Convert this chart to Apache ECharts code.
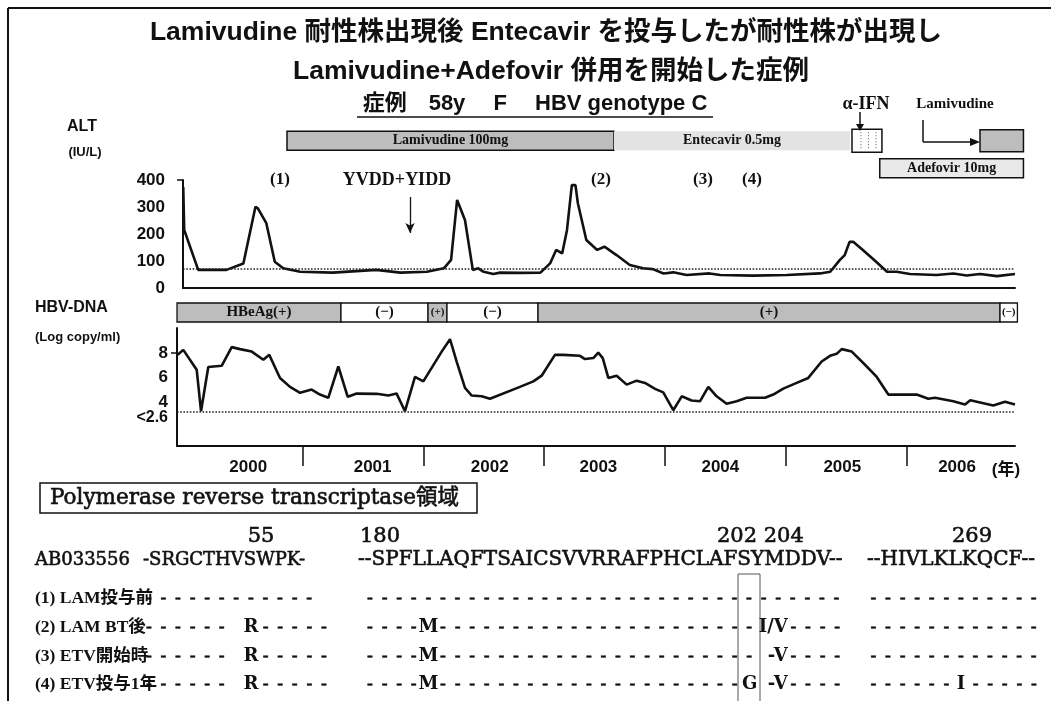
<!DOCTYPE html>
<html><head><meta charset="utf-8">
<script src="https://cdn.jsdelivr.net/npm/echarts@6/dist/echarts.min.js"></script>
<style>html,body{margin:0;padding:0;background:#fff}#c{width:1051px;height:701px}</style>
</head><body><div id="c"></div><script>
// ---------------- DATA ----------------
const altYears = [2000.012,2000.02,2000.136,2000.37,2000.51,2000.61,2000.63,2000.70,2000.77,2000.84,2000.98,2001.25,2001.61,2001.81,2002.03,2002.17,2002.23,2002.28,2002.345,2002.41,2002.455,2002.50,2002.58,2002.635,2002.80,2002.97,2003.05,2003.10,2003.15,2003.19,2003.23,2003.26,2003.28,2003.35,2003.44,2003.50,2003.60,2003.71,2003.82,2003.90,2003.99,2004.07,2004.18,2004.37,2004.46,2004.73,2005.01,2005.285,2005.37,2005.45,2005.49,2005.53,2005.56,2005.64,2005.75,2005.84,2005.92,2006.03,2006.25,2006.39,2006.50,2006.61,2006.75,2006.90];
const altValues = [374,215,67,67,91,301,295,240,97,73,60,57,67,57,60,73,104,326,252,67,73,60,52,57,56,57,91,141,128,215,381,381,314,178,141,153,122,85,73,70,54,58,48,54,48,46,48,54,60,104,122,171,171,141,97,60,60,52,48,54,46,52,44,52];
const hbvYears = [1999.966,2000.012,2000.123,2000.159,2000.219,2000.33,2000.413,2000.482,2000.579,2000.675,2000.724,2000.813,2000.896,2000.979,2001.075,2001.144,2001.213,2001.296,2001.374,2001.448,2001.614,2001.71,2001.779,2001.848,2001.931,2002.0,2002.152,2002.221,2002.276,2002.345,2002.401,2002.483,2002.552,2002.80,2002.911,2002.98,2003.09,2003.159,2003.297,2003.339,2003.408,2003.449,2003.486,2003.532,2003.601,2003.684,2003.767,2003.836,2003.919,2003.987,2004.07,2004.14,2004.222,2004.291,2004.36,2004.429,2004.512,2004.595,2004.678,2004.83,2004.898,2004.981,2005.092,2005.188,2005.299,2005.368,2005.423,2005.465,2005.548,2005.658,2005.755,2005.851,2006.086,2006.182,2006.237,2006.389,2006.486,2006.53,2006.72,2006.817,2006.9];
const hbvValues = [7.84,8.24,6.64,3.3,6.86,6.96,8.46,8.3,8.1,7.44,7.84,5.98,5.26,4.78,5.04,4.64,4.38,6.9,4.46,4.72,4.7,4.56,4.72,3.3,6.06,5.7,8.1,9.1,7.3,5.18,4.56,4.5,4.3,5.26,5.7,6.16,7.84,7.84,7.76,7.5,7.58,8.02,7.58,5.98,6.16,5.44,5.76,5.58,5.1,4.82,3.38,4.5,4.16,4.1,5.26,4.5,3.9,4.1,4.38,4.38,4.64,5.12,5.58,5.98,7.3,7.76,7.92,8.3,8.1,7.04,6.06,4.64,4.64,4.3,4.38,4.1,3.84,4.18,3.76,4.06,3.84];
const altNormal = 70;
const hbvLimit = 3.25;
const altTicks = [0,100,200,300,400];
const hbvTickPos = [4,6,8];
const hbvTickText = ['4','6','8'];
const hbvLimitTickPos = [2.8];
const hbvLimitTickText = ['<2.6'];
const yearTicks = [2001,2002,2003,2004,2005,2006];
const yearLabelPos = [2000.55,2001.58,2002.55,2003.45,2004.46,2005.47,2006.42];
const yearLabels = ['2000','2001','2002','2003','2004','2005','2006'];
const treatNames = ['Lamivudine 100mg','Entecavir 0.5mg','','','Adefovir 10mg'];
const treatStart = [2000.871,2003.579,2005.55,2006.61,2005.78];
const treatEnd = [2003.579,2005.534,2005.798,2006.97,2006.97];
const treatRow = [0,0,0,0,1];
const hbeagLabels = ['HBeAg(+)','(−)','(+)','(−)','(+)','(−)'];
const hbeagStart = [1999.96,2001.318,2002.039,2002.196,2002.95,2006.776];
const hbeagEnd = [2001.318,2002.039,2002.196,2002.95,2006.776,2006.92];
const hbeagPositive = [1,0,1,0,1,0];
const eventLabels = ['(1)','(2)','(3)','(4)'];
const mutationArrow = [2001.89, 337, 204];
const seqPosLabels = ['55','180','202 204','269'];
const seqRef = ['AB033556','-SRGCTHVSWPK-','--SPFLLAQFTSAICSVVRRAFPHCLAFSYMDDV--','--HIVLKLKQCF--'];
const sampleLabels = ['(1) LAM投与前','(2) LAM BT後','(3) ETV開始時','(4) ETV投与1年'];
const mut55 = ['','R','R','R'];
const mut180 = ['','M','M','M'];
const mut202 = ['','','','G'];
const mut204 = ['','I/V','-V','-V'];
const mut269 = ['','','','I'];

// ---------------- STYLE ----------------
const SANS = '"Liberation Sans","Noto Sans CJK JP",sans-serif';
const SERIF = '"Liberation Serif","Noto Sans CJK JP",serif';
const SEQ = '"DejaVu Serif","Noto Sans CJK JP",serif';
const INK = '#111';
const X_MIN = 1999.96, X_MAX = 2006.9;

const treatFill = ['#bdbdbd','#e3e3e3','#ffffff','#bdbdbd','#e9e9e9'];
const treatStroke = [INK,null,INK,INK,INK];
const treatH = [19,19,23,22,19];

function T(text, x, y, font, align, extra) {
  return {type:'text', x:x, y:y, silent:true, z:10,
    style:Object.assign({text:text, font:font, fill:INK, textAlign:align||'left', textVerticalAlign:'middle'}, extra||{})};
}
const HEAVY = {stroke:INK, lineWidth:0.6};
function L(x1,y1,x2,y2,w,dash){
  return {type:'line', silent:true, z:10, shape:{x1:x1,y1:y1,x2:x2,y2:y2}, style:{stroke:INK, lineWidth:w||1.5, lineDash:dash||null}};
}
function P(points){
  return {type:'polygon', silent:true, z:10, shape:{points:points}, style:{fill:INK}};
}

// ---------------- GRAPHIC ----------------
const g = [];
// frame
g.push(L(8,8,1051,8,2));
g.push(L(8,8,8,701,2));
// titles
g.push(T('Lamivudine 耐性株出現後 Entecavir を投与したが耐性株が出現し', 546, 33, 'bold 26.5px '+SANS, 'center'));
g.push(T('Lamivudine+Adefovir 併用を開始した症例', 551, 72, 'bold 26.5px '+SANS, 'center'));
g.push(T('症例　58y　 F　 HBV genotype C', 535, 104, 'bold 22px '+SANS, 'center'));
g.push(L(357,117,713,117,1.5));
// panel labels
g.push(T('ALT', 82, 127, 'bold 16px '+SANS, 'center'));
g.push(T('(IU/L)', 85, 152, 'bold 13px '+SANS, 'center'));
g.push(T('HBV-DNA', 35, 308, 'bold 16px '+SANS, 'left'));
g.push(T('(Log copy/ml)', 35, 337, 'bold 13px '+SANS, 'left'));
g.push(T('(年)', 1006, 470, 'bold 17px '+SANS, 'center'));
// treatment annotations
g.push(T('α-IFN', 866, 104, 'bold 18px '+SERIF, 'center'));
g.push(L(860,112,860,125,1.5));
g.push(P([[856,124],[864,124],[860,131]]));
g.push(T('Lamivudine', 955, 104, 'bold 15px '+SERIF, 'center'));
g.push(L(923,120,923,142,1.5));
g.push(L(923,142,972,142,1.5));
g.push(P([[970,138],[980,142],[970,146]]));
// event labels
const evX = [280, 601, 703, 752];
eventLabels.forEach((t,i)=>g.push(T(t, evX[i], 180, 'bold 17px '+SERIF, 'center')));
g.push(T('YVDD+YIDD', 397, 180, 'bold 18px '+SERIF, 'center'));

// sequence section
g.push({type:'rect', silent:true, z:10, shape:{x:40,y:483,width:437,height:30}, style:{fill:'#fff', stroke:INK, lineWidth:1.5}});
g.push(T('Polymerase reverse transcriptase領域', 50, 498, '21.5px '+SEQ, 'left', HEAVY));
const numX = [261, 380, 717, 972], numAl = ['center','center','left','center'];
seqPosLabels.forEach((t,i)=>g.push(T(t, numX[i], 537, '21px '+SEQ, numAl[i], HEAVY)));
const refX = [35, 143, 358, 867];
const refSize = [18, 18, 20, 20];
seqRef.forEach((t,i)=>g.push(T(t, refX[i], 560, refSize[i]+'px '+SEQ, 'left', HEAVY)));
// highlight box at 202
g.push({type:'rect', silent:true, z:9, shape:{x:738,y:574,width:22,height:130}, style:{fill:null, stroke:'#555', lineWidth:1}});

const PITCH = 14.6;
const regA = 148.8, regB = 370, regC = 873.4;
const DASHFONT = 'bold 17.5px "Liberation Serif",serif';
function dashRun(x0, from, to, y){
  if (to < from) return;
  const n = to-from+1;
  g.push(T(Array(n).fill('-').join('  '), x0 + from*PITCH - 2.9, y, DASHFONT, 'left', {stroke:INK, lineWidth:0.5}));
}
function mut(text, x, y, align){ g.push(T(text, x, y, 'bold 18px '+SEQ, align||'center')); }
const rowY = [598, 627, 656, 684];
sampleLabels.forEach((lab, r)=>{
  const y = rowY[r];
  g.push(T(lab, 35, y, 'bold 17.5px '+SERIF, 'left'));
  // region 55
  if (mut55[r]) { dashRun(regA,0,5,y); mut(mut55[r], regA+7*PITCH, y); dashRun(regA,8,12,y); }
  else dashRun(regA,0,11,y);
  // region 180-204
  if (!mut180[r]) { dashRun(regB,0,32,y); }
  else {
    dashRun(regB,0,3,y); mut(mut180[r], regB+4*PITCH, y);
    if (mut202[r]) { dashRun(regB,5,25,y); mut(mut202[r], regB+26*PITCH, y); }
    else dashRun(regB,5,26,y);
    mut(mut204[r], regB+28*PITCH+9, y, 'right');
    dashRun(regB,29,32,y);
  }
  // region 269
  if (mut269[r]) { dashRun(regC,0,5,y); mut(mut269[r], regC+6*PITCH, y); dashRun(regC,7,11,y); }
  else dashRun(regC,0,11,y);
});

// ---------------- SERIES HELPERS ----------------
function renderTreat(params, api){
  const i = api.value(3);
  const a = api.coord([api.value(0), api.value(2)]);
  const b = api.coord([api.value(1), api.value(2)]);
  const h = treatH[i];
  const ch = [{type:'rect', shape:{x:a[0], y:a[1]-h/2, width:b[0]-a[0], height:h},
    style:{fill:treatFill[i], stroke:treatStroke[i], lineWidth:1.5}}];
  if (i === 2) {
    [0.3,0.55,0.8].forEach(f=>{
      const xx = a[0] + (b[0]-a[0])*f;
      ch.push({type:'line', shape:{x1:xx,y1:a[1]-h/2+3,x2:xx,y2:a[1]+h/2-3}, style:{stroke:'#555', lineWidth:1, lineDash:[1,2]}});
    });
  }
  if (treatNames[i]) {
    ch.push({type:'text', x:(a[0]+b[0])/2, y:a[1], style:{text:treatNames[i], font:'bold 14px '+SERIF, fill:INK,
      textAlign:'center', textVerticalAlign:'middle', align:'center', verticalAlign:'middle'}});
  }
  return {type:'group', children:ch};
}
function renderHbeag(params, api){
  const i = api.value(3);
  const a = api.coord([api.value(0), 0]);
  const b = api.coord([api.value(1), 0]);
  const h = 19;
  const small = (b[0]-a[0]) < 30;
  return {type:'group', children:[
    {type:'rect', shape:{x:a[0], y:a[1]-h/2, width:b[0]-a[0], height:h},
      style:{fill: hbeagPositive[i] ? '#bdbdbd' : '#ffffff', stroke:INK, lineWidth:1.3}},
    {type:'text', x:(a[0]+b[0])/2, y:a[1], style:{text:hbeagLabels[i], font:'bold '+(small?11:15)+'px '+SERIF, fill:INK,
      textAlign:'center', textVerticalAlign:'middle', align:'center', verticalAlign:'middle'}}
  ]};
}

const baseGrid = {containLabel:false, outerBoundsMode:'none'};
const hiddenX = (gi)=>({gridIndex:gi, type:'value', min:X_MIN, max:X_MAX, show:false, splitLine:{show:false}});
const lbl = (vals, texts, margin, size)=>({show:true, customValues:vals, margin:margin, color:INK, fontFamily:SANS, fontWeight:'bold', fontSize:size, hideOverlap:false,
  formatter:(v)=>{const k = vals.findIndex(p=>Math.abs(p-v)<1e-6); return k>=0 ? texts[k] : '';}});

const option = {
  animation:false,
  backgroundColor:'#fff',
  textStyle:{fontFamily:SANS},
  grid:[
    Object.assign({left:177, right:36, top:127, height:55}, baseGrid),
    Object.assign({left:183, right:36, top:180, height:108}, baseGrid),
    Object.assign({left:177, right:36, top:303, height:19}, baseGrid),
    Object.assign({left:177, right:36, top:328, height:118}, baseGrid)
  ],
  xAxis:[
    hiddenX(0),
    {gridIndex:1, type:'value', min:2000.01, max:X_MAX, splitLine:{show:false},
      axisLine:{show:true, onZero:false, lineStyle:{color:INK, width:2}}, axisTick:{show:false}, axisLabel:{show:false}},
    hiddenX(2),
    {gridIndex:3, type:'value', min:X_MIN, max:X_MAX, splitLine:{show:false},
      axisLine:{show:true, onZero:false, lineStyle:{color:INK, width:2}},
      axisTick:{show:true, customValues:yearTicks, length:20, inside:false, lineStyle:{color:INK, width:1.5}},
      axisLabel:lbl(yearLabelPos, yearLabels, 13, 17)}
  ],
  yAxis:[
    {gridIndex:0, type:'category', data:['r0','r1'], inverse:true, show:false},
    {gridIndex:1, type:'value', min:0, max:400, splitLine:{show:false},
      axisLine:{show:true, lineStyle:{color:INK, width:2}},
      axisTick:{show:true, customValues:[400], length:6, lineStyle:{color:INK, width:1.5}},
      axisLabel:lbl(altTicks, altTicks.map(String), 18, 17)},
    {gridIndex:2, type:'category', data:['e'], show:false},
    {gridIndex:3, type:'value', position:'left', min:0.5, max:10, splitLine:{show:false},
      axisLine:{show:true, lineStyle:{color:INK, width:2}},
      axisTick:{show:true, customValues:[8], length:6, lineStyle:{color:INK, width:1.5}},
      axisLabel:lbl(hbvTickPos, hbvTickText, 9, 17)},
    {gridIndex:3, type:'value', position:'left', offset:0, min:0.5, max:10, splitLine:{show:false},
      axisLine:{show:false}, axisTick:{show:false},
      axisLabel:lbl(hbvLimitTickPos, hbvLimitTickText, 9, 16)}
  ],
  series:[
    {type:'custom', name:'treatment', xAxisIndex:0, yAxisIndex:0, clip:false, renderItem:renderTreat,
      encode:{x:[0,1], y:2},
      data: treatStart.map((s,i)=>[s, treatEnd[i], treatRow[i], i])},
    {type:'line', name:'ALT', xAxisIndex:1, yAxisIndex:1, symbol:'none', smooth:false,
      lineStyle:{color:INK, width:2.6}, itemStyle:{color:INK},
      data: altYears.map((y,i)=>[y, altValues[i]]),
      markLine:{silent:true, symbol:['none','none'], label:{show:false},
        data:[
          {yAxis:altNormal, lineStyle:{type:'dotted', color:'#222', width:1.6}},
          [{coord:[mutationArrow[0], mutationArrow[1]], symbol:'none'},
           {coord:[mutationArrow[0], mutationArrow[2]], symbol:'arrow', symbolSize:[7,10], lineStyle:{type:'solid', color:INK, width:1.3}}]
        ]}},
    {type:'custom', name:'HBeAg', xAxisIndex:2, yAxisIndex:2, clip:false, renderItem:renderHbeag,
      encode:{x:[0,1], y:2},
      data: hbeagStart.map((s,i)=>[s, hbeagEnd[i], 0, i])},
    {type:'line', name:'HBV-DNA', xAxisIndex:3, yAxisIndex:3, symbol:'none', smooth:false,
      lineStyle:{color:INK, width:2.6}, itemStyle:{color:INK},
      data: hbvYears.map((y,i)=>[y, hbvValues[i]]),
      markLine:{silent:true, symbol:['none','none'], label:{show:false},
        data:[{yAxis:hbvLimit, lineStyle:{type:'dotted', color:'#222', width:1.6}}]}}
  ],
  graphic: g
};
const chart = echarts.init(document.getElementById('c'));
chart.setOption(option);
</script></body></html>
